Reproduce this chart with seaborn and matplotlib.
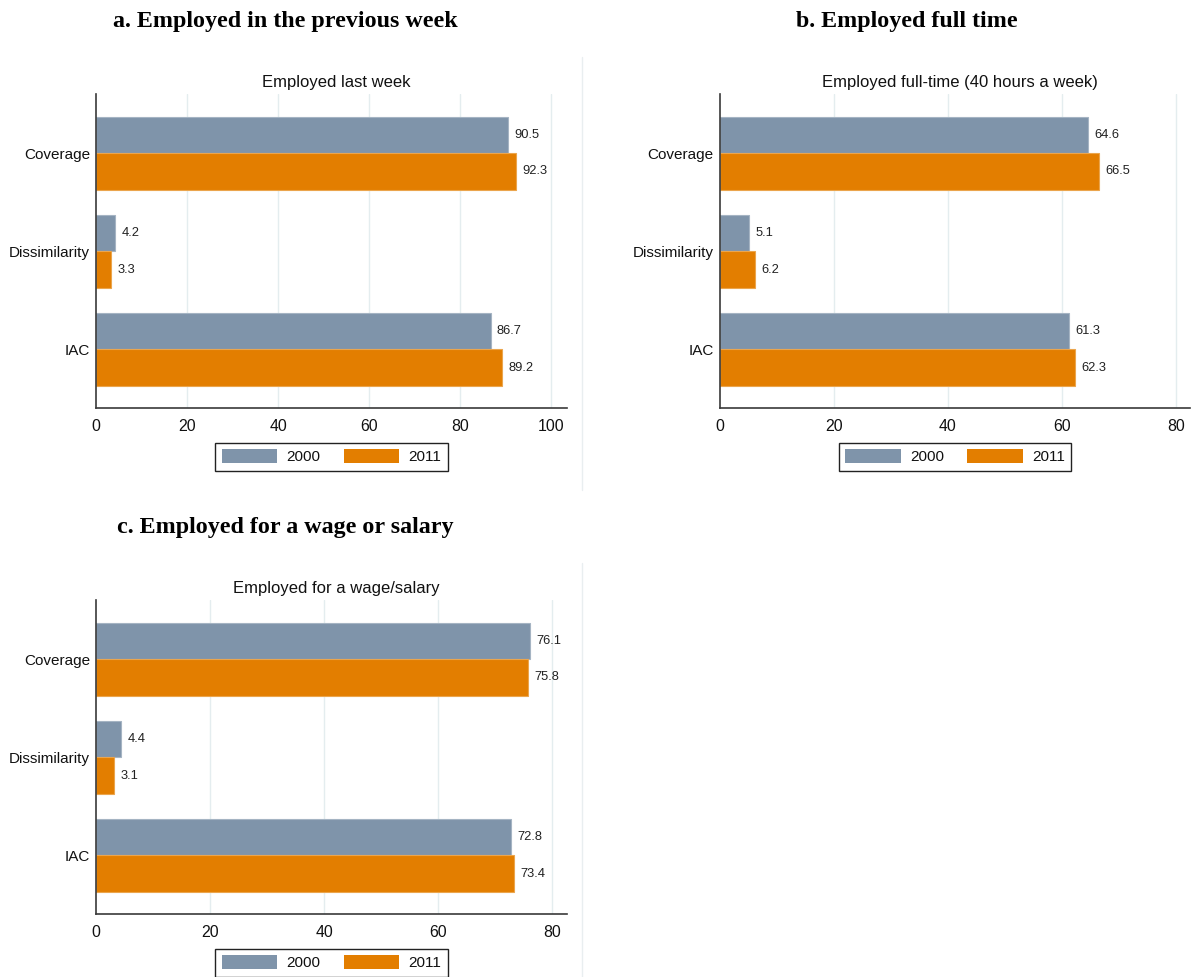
import matplotlib
matplotlib.use("Agg")
import matplotlib.pyplot as plt
from matplotlib.lines import Line2D
import matplotlib.colors as mcolors
import pandas as pd
import seaborn as sns

# ---- data -------------------------------------------------------------
measures = ["Coverage", "Dissimilarity", "IAC"]
years = ["2000", "2011"]

last_week_2000 = [90.5, 4.2, 86.7]
last_week_2011 = [92.3, 3.3, 89.2]

full_time_2000 = [64.6, 5.1, 61.3]
full_time_2011 = [66.5, 6.2, 62.3]

wage_2000 = [76.1, 4.4, 72.8]
wage_2011 = [75.8, 3.1, 73.4]

panel_titles = [
    "a. Employed in the previous week",
    "b. Employed full time",
    "c. Employed for a wage or salary",
]
chart_titles = [
    "Employed last week",
    "Employed full-time (40 hours a week)",
    "Employed for a wage/salary",
]
x_ticks_a = [0, 20, 40, 60, 80, 100]
x_ticks_b = [0, 20, 40, 60, 80]
x_ticks_c = [0, 20, 40, 60, 80]

# ---- styling ----------------------------------------------------------
sns.set_theme(style="white")
plt.rcParams["font.family"] = ["Liberation Sans", "DejaVu Sans"]

BLUE_GRAY = "#7f94aa"
ORANGE = "#e37e00"
palette = {"2000": BLUE_GRAY, "2011": ORANGE}
AXIS_COLOR = "#3a3a3a"
GRID_COLOR = "#e4edef"

W, H = 1198, 977
fig = plt.figure(figsize=(W / 100, H / 100), dpi=100)
fig.patch.set_facecolor("white")


def axes_px(left, top, right, bottom):
    return fig.add_axes([left / W, 1 - bottom / H, (right - left) / W, (bottom - top) / H])


def make_frame(v2000, v2011):
    return pd.DataFrame({
        "measure": measures * 2,
        "year": [years[0]] * 3 + [years[1]] * 3,
        "value": list(v2000) + list(v2011),
    })


def lighter(color, amount=0.3):
    r, g, b = mcolors.to_rgb(color)
    return (r + (1 - r) * amount, g + (1 - g) * amount, b + (1 - b) * amount)


def draw_panel(box, v2000, v2011, ticks, xmax, title):
    left, top, right, bottom = box
    ax = axes_px(left, top, right, bottom)
    df = make_frame(v2000, v2011)
    sns.barplot(data=df, x="value", y="measure", hue="year", orient="h",
                palette=palette, saturation=1, width=0.745, gap=0, ax=ax,
                errorbar=None, linewidth=0, zorder=2)
    for cont, yr in zip(ax.containers, years):
        for p in cont.patches:
            p.set_edgecolor(lighter(palette[yr]))
            p.set_linewidth(0.8)
        ax.bar_label(cont, fmt="%.1f", padding=4.5, fontsize=9.3, color="#222222")

    ax.set_xlim(0, xmax)
    ax.set_ylim(2.599, -0.604)
    ax.set_xticks(ticks)
    ax.set_xlabel("")
    ax.set_ylabel("")
    for x in ticks[1:]:
        ax.axvline(x, color=GRID_COLOR, lw=1.0, zorder=0)

    sns.despine(ax=ax, top=True, right=True)
    for side in ("left", "bottom"):
        ax.spines[side].set_color(AXIS_COLOR)
        ax.spines[side].set_linewidth(1.2)
    ax.tick_params(axis="x", length=5, width=1, color=AXIS_COLOR, direction="out",
                   labelsize=11.4, labelcolor="#111111", pad=3)
    ax.tick_params(axis="y", length=0, labelsize=11.0, labelcolor="#111111", pad=4.5)
    ax.set_facecolor("white")

    ax.text(0.51, 1 + 12 / (bottom - top), title, transform=ax.transAxes,
            ha="center", va="center", fontsize=12, color="#111111")

    sns.move_legend(ax, "upper center", bbox_to_anchor=(0.5, -34.7 / (bottom - top)),
                    ncol=2, title=None, frameon=True, fontsize=11.0,
                    handlelength=3.66, handleheight=0.98, handletextpad=0.6,
                    columnspacing=1.5, borderpad=0.42, borderaxespad=0,
                    fancybox=False)
    leg = ax.get_legend()
    frame = leg.get_frame()
    frame.set_edgecolor("#222222")
    frame.set_linewidth(1.0)
    frame.set_alpha(1)
    for t in leg.get_texts():
        t.set_color("#111111")
    return ax


draw_panel((96.3, 94, 566.7, 408), last_week_2000, last_week_2011, x_ticks_a, 103.4, chart_titles[0])
draw_panel((720, 94, 1190, 408), full_time_2000, full_time_2011, x_ticks_b, 82.46, chart_titles[1])
draw_panel((96.3, 600, 566.7, 914), wage_2000, wage_2011, x_ticks_c, 82.6, chart_titles[2])

# panel headings
title_font = dict(family=["Liberation Serif", "DejaVu Serif"], fontweight="bold",
                  fontsize=17.3, color="black", ha="center", va="center")
fig.text(285 / W, 1 - 22 / H, panel_titles[0], **title_font)
fig.text(907 / W, 1 - 22 / H, panel_titles[1], **title_font)
fig.text(285 / W, 1 - 527 / H, panel_titles[2], **title_font)

# faint graph-region edges
edge = "#e9eef0"
fig.add_artist(Line2D([581.7 / W, 581.7 / W], [1 - 57 / H, 1 - 490 / H],
                      color=edge, lw=1.0, transform=fig.transFigure))
fig.add_artist(Line2D([581.7 / W, 581.7 / W], [1 - 563 / H, 0],
                      color=edge, lw=1.0, transform=fig.transFigure))

fig.savefig("out.png", dpi=100, facecolor="white")
